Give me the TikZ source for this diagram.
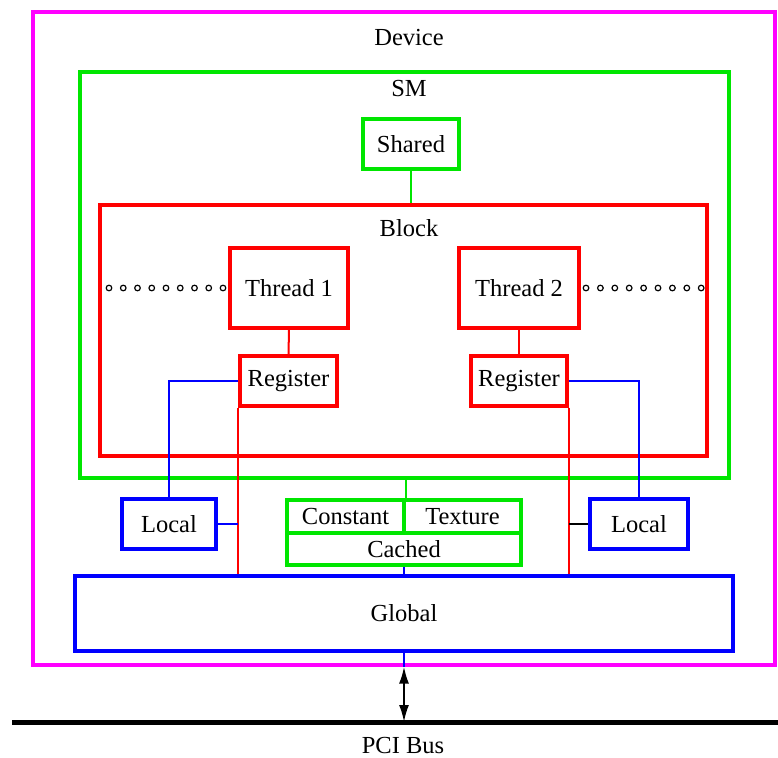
\documentclass[tikz,border=0pt]{standalone}
\usepackage{fontspec}
\setmainfont{Liberation Serif}
\usetikzlibrary{arrows.meta}
\definecolor{devmag}{RGB}{255,0,255}
\definecolor{smgreen}{RGB}{0,230,0}
\definecolor{blkred}{RGB}{255,0,0}
\definecolor{memblue}{RGB}{0,0,255}
\begin{document}
\begin{tikzpicture}[x=1pt,y=-1pt,
  font=\fontsize{24.5}{28}\selectfont,
  box/.style={draw=#1, line width=3.2pt, rectangle, inner sep=0pt},
  lbl/.style={inner sep=1pt},
  wire/.style={draw=#1, line width=2pt},
  dotc/.style={draw=black, fill=white, line width=1.2pt}]
\useasboundingbox (0,0) rectangle (778,757);

% containers
\node[box=devmag, minimum width=742, minimum height=653] (device) at (404,338.5) {};
\node[lbl] at (409,38) (devlbl) {Device};
\node[box=smgreen, minimum width=649, minimum height=406] (sm) at (404.5,275) {};
\node[lbl] at (409,89) (smlbl) {SM};
\node[box=smgreen, minimum width=96, minimum height=50] (shared) at (411,144) {Shared};
\node[box=blkred, minimum width=607, minimum height=251] (block) at (403.5,330.5) {};
\node[lbl] at (409,228) (blocklbl) {Block};

% threads and registers
\node[box=blkred, minimum width=118, minimum height=80] (t1) at (289,288) {Thread 1};
\node[box=blkred, minimum width=120, minimum height=80] (t2) at (519,288) {Thread 2};
\node[box=blkred, minimum width=97, minimum height=50] (r1) at (288.5,381) {Register};
\node[box=blkred, minimum width=96, minimum height=50] (r2) at (519,381) {Register};

% memories
\node[box=memblue, minimum width=94, minimum height=50] (loc1) at (169,524) {Local};
\node[box=memblue, minimum width=98, minimum height=50] (loc2) at (639,524) {Local};
\node[box=smgreen, minimum width=117, minimum height=33] (const) at (345.5,516.5) {Constant};
\node[box=smgreen, minimum width=117, minimum height=33] (tex) at (462.5,516.5) {Texture};
\node[box=smgreen, minimum width=234, minimum height=32] (cached) at (404,549) {Cached};
\node[box=memblue, minimum width=658, minimum height=75] (global) at (404,613.5) {Global};

% bus
\coordinate (busL) at (12,722);
\coordinate (busR) at (778,722);
\draw[line width=5pt] (busL) -- (busR);
\node[lbl] at (403,745) (buslbl) {PCI Bus};

% further threads
\foreach \i in {0,...,8} {
  \draw[dotc] (109+14.25*\i,288) circle (2.8);
  \draw[dotc] (586+14.4*\i,288) circle (2.8);
}

% connectors
\draw[wire=smgreen] (shared.south) -- (shared.south |- block.north);
\draw[wire=blkred] (t1.south) -- (r1.north);
\draw[wire=blkred] (t2.south) -- (r2.north);
\draw[wire=memblue] (r1.west) -| (loc1.north);
\draw[wire=memblue] (r2.east) -| (loc2.north);
\draw[wire=blkred] (r1.south west) -- (r1.south west |- global.north);
\draw[wire=blkred] (r2.south east) -- (r2.south east |- global.north);
\draw[wire=memblue] (loc1.east) -- (loc1.east -| r1.south west);
\draw[wire=black] (loc2.west) -- (loc2.west -| r2.south east);
\draw[wire=smgreen] (const.north east |- sm.south) -- (const.north east);
\draw[wire=memblue] (cached.south) -- (cached.south |- global.north);
\draw[wire=memblue] (global.south) -- (global.south |- device.south);
\draw[line width=2pt, {Latex[length=17pt,width=10pt]}-{Latex[length=17pt,width=10pt]}]
  (global.south |- device.south) -- (global.south |- busL);
\end{tikzpicture}
\end{document}
